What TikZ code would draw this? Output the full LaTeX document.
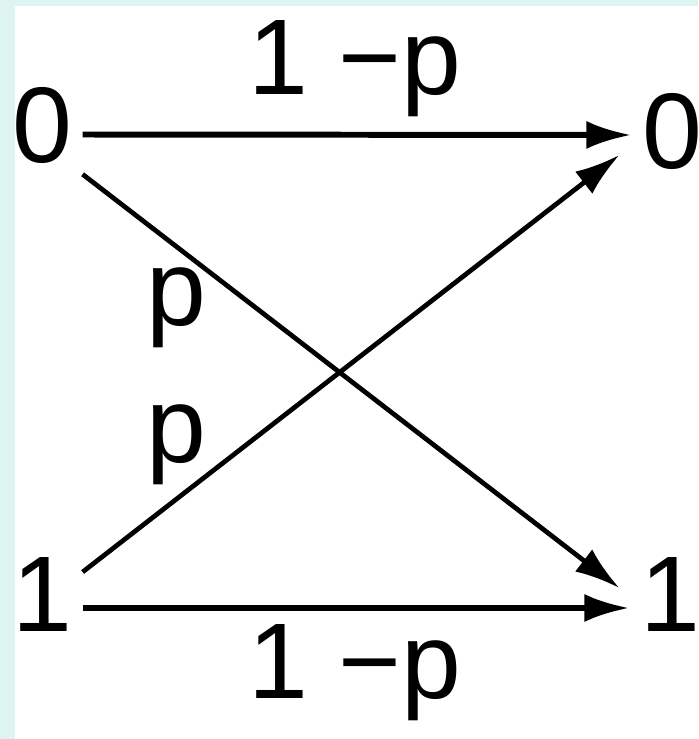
\documentclass[tikz,border=0pt]{standalone}
\usepackage{fontspec}
\setmainfont{Liberation Sans}
\usetikzlibrary{arrows.meta, positioning}
\definecolor{framecyan}{RGB}{221, 244, 240}

\begin{document}
\begin{tikzpicture}[
  sym/.style={inner sep=0.1cm, font=\fontsize{30.6pt}{36pt}\selectfont},
  lbl/.style={inner sep=0pt, anchor=base west, font=\fontsize{30.6pt}{36pt}\selectfont},
  arr/.style={-{Latex[length=4.5mm, width=2.8mm]}, line width=1.7pt},
  darr/.style={-{Latex[length=4.5mm, width=2.8mm]}, line width=1.35pt}
]
  \useasboundingbox (0, 0) rectangle (6.98, -7.39);
  \fill[white] (0, 0) rectangle (6.98, -7.39);
  \fill[framecyan] (0, 0) rectangle (6.98, -0.06);
  \fill[framecyan] (0, 0) rectangle (0.15, -7.39);

  \node[sym] (in0) at (0.42, -1.255) {0};
  \node[sym] (in1) at (0.42, -5.945) {1};
  \node[sym] (out0) at (6.72, -1.315) {0};
  \node[sym] (out1) at (6.70, -5.945) {1};

  \node[lbl] (ptop) at (2.48, -0.94) {1 −p};
  \node[lbl] (pbot) at (2.48, -6.98) {1 −p};
  \node[lbl] (pup) at (1.46, -3.25) {p};
  \node[lbl] (plow) at (1.46, -4.62) {p};

  \draw[arr] ([yshift=-0.09cm]in0.east) -- ([yshift=-0.035cm]out0.west);
  \draw[arr] ([yshift=-0.135cm]in1.east) -- ([yshift=-0.135cm]out1.west);
  \draw[darr] (in0.south east) -- ([xshift=-0.10cm, yshift=0.065cm]out1.west);
  \draw[darr] ([yshift=0.225cm]in1.east) -- ([xshift=-0.12cm, yshift=-0.235cm]out0.west);
\end{tikzpicture}
\end{document}
